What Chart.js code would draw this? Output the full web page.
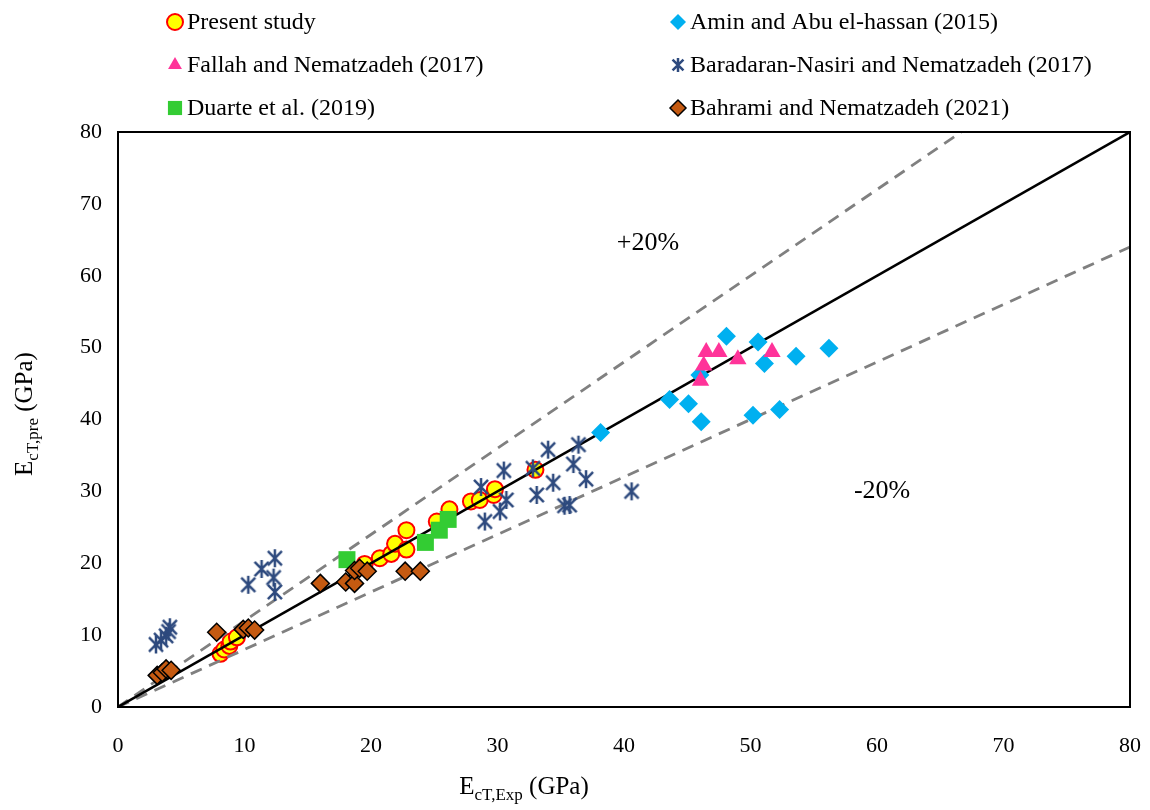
<!DOCTYPE html>
<html>
<head>
<meta charset="utf-8">
<script src="https://cdn.jsdelivr.net/npm/chart.js@4/dist/chart.umd.min.js"></script>
<style>
  body { margin: 0; background: #fff; }
  #wrap { width: 1150px; height: 810px; }
</style>
</head>
<body>
<div id="wrap"><canvas id="chart" width="1150" height="810"></canvas></div>
<script>
// E_cT experimental (x) vs predicted (y), GPa
const presentX = [8.1, 8.4, 8.8, 8.9, 9.4, 19.5, 20.7, 21.6, 21.9, 22.8, 22.8, 25.2, 26.2, 27.9, 28.6, 29.7, 29.8, 33.0];
const presentY = [7.4, 8.0, 8.5, 9.1, 9.7, 19.9, 20.7, 21.3, 22.7, 21.9, 24.6, 25.8, 27.5, 28.6, 28.8, 29.5, 30.3, 33.0];

const aminX = [38.15, 43.6, 45.1, 46.1, 46.0, 48.1, 50.6, 51.1, 50.2, 52.3, 53.6, 56.2];
const aminY = [38.2, 42.8, 42.2, 39.7, 46.2, 51.6, 50.8, 47.8, 40.6, 41.4, 48.8, 49.9];

const fallahX = [46.5, 47.5, 46.3, 46.05, 49.0, 51.7];
const fallahY = [49.4, 49.4, 47.5, 45.4, 48.4, 49.4];

const baradaranX = [3.0, 3.4, 3.8, 4.0, 4.1, 10.3, 11.35, 12.4, 12.3, 12.4, 28.7, 29.0, 30.2, 30.7, 30.5, 32.8, 33.1, 34.0, 34.4, 35.3, 35.7, 36.0, 36.4, 37.0, 40.6];
const baradaranY = [8.7, 9.3, 9.9, 10.5, 11.1, 17.0, 19.2, 20.7, 18.0, 16.0, 30.6, 25.8, 27.2, 28.8, 32.9, 33.2, 29.5, 35.8, 31.2, 28.0, 28.1, 33.8, 36.5, 31.7, 30.0];

const duarteX = [18.1, 24.3, 25.4, 26.1];
const duarteY = [20.5, 22.9, 24.6, 26.1];

const bahramiX = [3.1, 3.5, 3.8, 4.2, 7.8, 9.9, 10.3, 10.8, 16.0, 18.0, 18.7, 18.7, 19.1, 19.7, 22.7, 23.9];
const bahramiY = [4.4, 4.8, 5.3, 5.1, 10.4, 10.8, 11.0, 10.7, 17.2, 17.4, 17.2, 19.0, 19.3, 18.9, 18.9, 18.9];

// reference lines: y = x, +20 %, -20 %
const lineX = [0, 80];
const equalY = [0, 80];
const plusX = [0, 66.67];
const plusY = [0, 80];
const minusY = [0, 64];

const axisTicks = [0, 10, 20, 30, 40, 50, 60, 70, 80];

const FONT = "'Liberation Serif', 'Times New Roman', serif";

function pts(xs, ys) {
  return xs.map((x, i) => ({ x: x, y: ys[i] }));
}

// six-armed asterisk marker (X plus vertical bar)
function makeStar(color, size) {
  const c = document.createElement('canvas');
  c.width = size; c.height = size;
  const g = c.getContext('2d');
  const m = size / 2, r = size / 2 - 1;
  const d = r * 0.78;
  g.strokeStyle = color;
  g.lineWidth = 2.5;
  g.beginPath();
  g.moveTo(m, m - r); g.lineTo(m, m + r);
  g.moveTo(m - d, m - d); g.lineTo(m + d, m + d);
  g.moveTo(m + d, m - d); g.lineTo(m - d, m + d);
  g.stroke();
  return c;
}
const starImg = makeStar('#2E4A7E', 20);
const starSmall = makeStar('#2E4A7E', 16);

function refLine(xs, ys, color, dash, width) {
  return {
    type: 'line',
    data: pts(xs, ys),
    borderColor: color,
    borderWidth: width,
    borderDash: dash,
    pointRadius: 0,
    fill: false,
    showLine: true,
    order: 8
  };
}

const datasets = [
  { label: 'Present study', data: pts(presentX, presentY), pointStyle: 'circle', pointRadius: 8,
    backgroundColor: '#FFFF00', borderColor: '#FF0000', borderWidth: 2, order: 10 },
  refLine(lineX, equalY, '#000000', [], 2.5),
  refLine(plusX, plusY, '#808080', [12, 8], 2.8),
  refLine(lineX, minusY, '#808080', [12, 8], 2.8),
  { label: 'Amin and Abu el-hassan (2015)', data: pts(aminX, aminY), pointStyle: 'rectRot', pointRadius: 9.5,
    backgroundColor: '#00B0F0', borderColor: '#00B0F0', borderWidth: 0, order: 6 },
  { label: 'Fallah and Nematzadeh (2017)', data: pts(fallahX, fallahY), pointStyle: 'triangle', pointRadius: 10,
    backgroundColor: '#FF3399', borderColor: '#FF3399', borderWidth: 0, order: 5 },
  { label: 'Baradaran-Nasiri and Nematzadeh (2017)', data: pts(baradaranX, baradaranY), pointStyle: starImg, pointRadius: 10,
    backgroundColor: '#2E4A7E', borderColor: '#2E4A7E', borderWidth: 0, order: 4 },
  { label: 'Duarte et al. (2019)', data: pts(duarteX, duarteY), pointStyle: 'rect', pointRadius: 12,
    backgroundColor: '#33CC33', borderColor: '#33CC33', borderWidth: 0, order: 3 },
  { label: 'Bahrami and Nematzadeh (2021)', data: pts(bahramiX, bahramiY), pointStyle: 'rectRot', pointRadius: 9,
    backgroundColor: '#C55A11', borderColor: '#000000', borderWidth: 1.5, order: 2 }
];

// legend grid: two columns, three rows
const legendSlots = [
  { label: 'Present study', x: 175, y: 22 },
  { label: 'Amin and Abu el-hassan (2015)', x: 678, y: 22 },
  { label: 'Fallah and Nematzadeh (2017)', x: 175, y: 65 },
  { label: 'Baradaran-Nasiri and Nematzadeh (2017)', x: 678, y: 65 },
  { label: 'Duarte et al. (2019)', x: 175, y: 108 },
  { label: 'Bahrami and Nematzadeh (2021)', x: 678, y: 108 }
];

function drawSubTitle(ctx, main, sub, tail, cx, cy) {
  ctx.font = '25px ' + FONT;
  const w1 = ctx.measureText(main).width;
  const w3 = ctx.measureText(tail).width;
  ctx.font = '17px ' + FONT;
  const w2 = ctx.measureText(sub).width;
  let x = cx - (w1 + w2 + w3) / 2;
  ctx.textBaseline = 'alphabetic';
  ctx.textAlign = 'left';
  ctx.font = '25px ' + FONT;
  ctx.fillText(main, x, cy + 8);
  x += w1;
  ctx.font = '17px ' + FONT;
  ctx.fillText(sub, x, cy + 14);
  x += w2;
  ctx.font = '25px ' + FONT;
  ctx.fillText(tail, x, cy + 8);
}

const decorations = {
  id: 'decorations',
  afterDraw(chart) {
    const ctx = chart.ctx;
    const a = chart.chartArea;
    const xs = chart.scales.x, ys = chart.scales.y;
    ctx.save();

    // plot frame
    ctx.strokeStyle = '#000';
    ctx.lineWidth = 2;
    ctx.strokeRect(a.left, a.top, a.right - a.left, a.bottom - a.top);

    ctx.fillStyle = '#000';
    // band labels
    ctx.font = '26px ' + FONT;
    ctx.textAlign = 'center';
    ctx.textBaseline = 'middle';
    ctx.fillText('+20%', xs.getPixelForValue(41.9), ys.getPixelForValue(64.5));
    ctx.fillText('-20%', xs.getPixelForValue(60.4), ys.getPixelForValue(30.0));

    // axis titles with subscripts
    drawSubTitle(ctx, 'E', 'cT,Exp', ' (GPa)', 524, 786);
    ctx.save();
    ctx.translate(32, 414);
    ctx.rotate(-Math.PI / 2);
    drawSubTitle(ctx, 'E', 'cT,pre', ' (GPa)', 0, -8);
    ctx.restore();

    // legend
    legendSlots.forEach(slot => {
      const ds = chart.data.datasets.find(d => d.label === slot.label);
      ctx.fillStyle = ds.backgroundColor;
      ctx.strokeStyle = ds.borderColor;
      ctx.lineWidth = ds.borderWidth;
      const style = ds.pointStyle === starImg ? starSmall : ds.pointStyle;
      Chart.helpers.drawPoint(ctx, {
        pointStyle: style,
        radius: ds.pointStyle === 'rect' ? 10 : 8,
        rotation: 0,
        borderWidth: ds.borderWidth
      }, slot.x, slot.y);
      ctx.fillStyle = '#000';
      ctx.font = '24px ' + FONT;
      ctx.textAlign = 'left';
      ctx.textBaseline = 'middle';
      ctx.fillText(slot.label, slot.x + 12, slot.y + 1);
    });
    ctx.restore();
  }
};

function axis(pad) {
  return {
    type: 'linear',
    min: 0,
    max: 80,
    afterBuildTicks: s => { s.ticks = axisTicks.map(v => ({ value: v })); },
    grid: { display: false, drawTicks: false },
    border: { display: false },
    ticks: { color: '#000', font: { family: FONT, size: 22 }, padding: pad, maxRotation: 0 }
  };
}

// fixed axis sizes, no extra room reserved for overhanging end labels
const xAxis = axis(26);
xAxis.afterFit = s => { s.height = 103; s.paddingLeft = 0; s.paddingRight = 0; };
const yAxis = axis(16);
yAxis.afterFit = s => { s.width = 118; s.paddingTop = 0; s.paddingBottom = 0; };

new Chart(document.getElementById('chart'), {
  type: 'scatter',
  data: { datasets: datasets },
  options: {
    responsive: false,
    animation: false,
    layout: { padding: { left: 0, top: 132, right: 20, bottom: 0 } },
    plugins: {
      legend: { display: false },
      tooltip: { enabled: false }
    },
    scales: { x: xAxis, y: yAxis }
  },
  plugins: [decorations]
});
</script>
</body>
</html>
